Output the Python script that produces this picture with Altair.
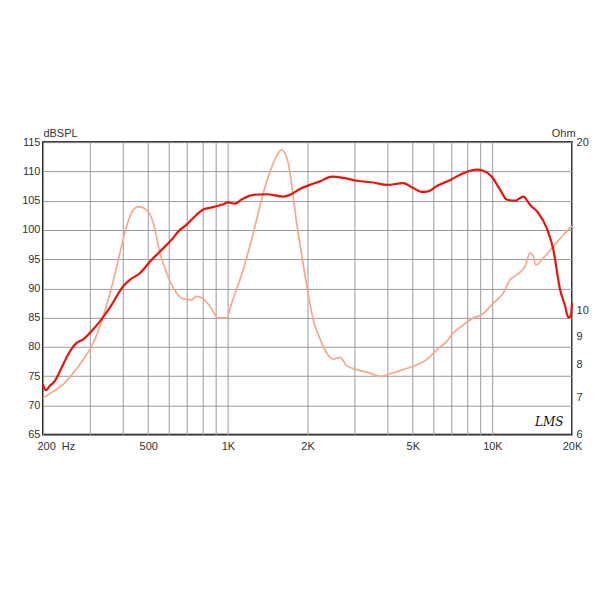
import altair as alt
import pandas as pd

# SPL curve (dB) vs frequency (Hz)
spl_freq = [200, 205, 212, 222, 235, 249, 267, 284, 301, 329, 358, 403, 427, 465, 508, 554, 604,
            659, 699, 762, 807, 881, 961, 1000, 1064, 1127, 1248, 1402, 1621, 1717, 1873, 2045,
            2230, 2468, 2732, 3069, 3548, 4005, 4605, 5000, 5403, 5725, 6160, 6915, 7762, 8725,
            9240, 9940, 10685, 11325, 12170, 13090, 13870, 14910, 16050, 17000, 18020, 18830,
            19370, 19770, 20000]
spl_db = [73.6, 72.6, 73.3, 74.2, 76.4, 78.7, 80.6, 81.3, 82.4, 84.4, 86.7, 90.4, 91.5, 92.6,
          94.6, 96.3, 98.0, 100.0, 100.9, 102.6, 103.5, 103.9, 104.4, 104.7, 104.5, 105.2, 106.0,
          106.1, 105.7, 106.0, 107.0, 107.7, 108.3, 109.1, 108.9, 108.4, 108.1, 107.7, 108.0,
          107.2, 106.5, 106.6, 107.5, 108.5, 109.7, 110.3, 110.1, 109.1, 106.9, 105.2, 105.0,
          105.7, 104.3, 102.9, 100.3, 96.6, 89.8, 87.0, 85.0, 85.3, 87.5]

# Impedance curve (Ohm) vs frequency (Hz)
imp_freq = [200, 219, 238, 260, 284, 310, 338, 364, 391, 414, 439, 459, 493, 523, 554, 587, 640,
            678, 730, 762, 807, 856, 920, 990, 1034, 1143, 1248, 1361, 1485, 1597, 1692, 1821,
            1986, 2103, 2230, 2364, 2504, 2655, 2812, 3069, 3446, 3759, 4101, 4605, 5174, 5643,
            6160, 6720, 7117, 7762, 8473, 9113, 10085, 11000, 11660, 12360, 13280, 13870, 14200,
            14620, 15580, 17000, 18550, 20000]
imp_ohm = [6.98, 7.17, 7.37, 7.73, 8.17, 8.75, 9.76, 11.04, 12.67, 14.13, 15.14, 15.34, 15.14,
           14.33, 12.67, 11.67, 10.75, 10.49, 10.45, 10.6, 10.49, 10.17, 9.7, 9.7, 10.31, 11.83,
           13.76, 16.21, 18.34, 19.38, 18.34, 14.33, 11.1, 9.63, 8.9, 8.4, 8.19, 8.25, 7.97,
           7.84, 7.73, 7.63, 7.71, 7.84, 8.0, 8.17, 8.51, 8.81, 9.12, 9.43, 9.7, 9.83, 10.31,
           10.75, 11.35, 11.59, 11.99, 12.67, 12.58, 12.07, 12.41, 13.02, 13.66, 14.17]

x_grid = [200, 300, 400, 500, 600, 700, 800, 900, 1000, 2000, 3000, 4000, 5000, 6000, 7000,
          8000, 9000, 10000, 20000]
x_labels = {200: "200\u00a0\u00a0Hz", 500: "500", 1000: "1K", 2000: "2K", 5000: "5K",
            10000: "10K", 20000: "20K"}
db_ticks = [65, 70, 75, 80, 85, 90, 95, 100, 105, 110, 115]
ohm_ticks = [6, 7, 8, 9, 10, 20]

spl_df = pd.DataFrame({"f": spl_freq, "v": spl_db})
imp_df = pd.DataFrame({"f": imp_freq, "v": imp_ohm})
lms_df = pd.DataFrame({"f": [16400], "v": [67.2], "t": ["LMS"]})

FONT = "Liberation Sans"
TXT = "#333333"

label_expr = " : ".join(
    [f"datum.value == {k} ? '{v}'" for k, v in x_labels.items()]) + " : ''"

x_enc = alt.X(
    "f:Q",
    scale=alt.Scale(type="log", domain=[200, 20000], nice=False),
    axis=alt.Axis(
        values=x_grid, labelExpr=label_expr, title=None, grid=True, gridColor="#9a9a9a",
        gridWidth=1, ticks=False, domain=False, labelPadding=6, labelFont=FONT,
        labelFontSize=11, labelColor=TXT, labelFlush=False, labelOverlap=False,
        labelAlign={"condition": {"test": "datum.value <= 200", "value": "left"},
                    "value": "center"},
        labelOffset={"condition": {"test": "datum.value <= 200", "value": -6},
                     "value": 0},
    ),
)

imp = alt.Chart(imp_df).mark_line(color="#f6a888", strokeWidth=1.7, interpolate="monotone").encode(
    x=x_enc,
    y=alt.Y(
        "v:Q",
        scale=alt.Scale(type="log", domain=[6, 20], nice=False),
        axis=alt.Axis(
            orient="right", values=ohm_ticks, grid=False, ticks=False, domain=False,
            labelPadding=4, labelFont=FONT, labelFontSize=11, labelColor=TXT,
            labelFlush=False, labelOverlap=False, labelBaseline="middle",
            title="Ohm", titleAngle=0, titleX=3, titleY=-6, titleAlign="right",
            titleBaseline="alphabetic", titleFont=FONT, titleFontSize=11,
            titleFontWeight="normal", titleColor=TXT,
        ),
    ),
)

spl_y = alt.Y(
    "v:Q",
    scale=alt.Scale(domain=[65, 115], nice=False),
    axis=alt.Axis(
        orient="left", values=db_ticks, tickCount=11, grid=True, gridColor="#9a9a9a",
        gridWidth=1, ticks=False, domain=False, labelPadding=3, labelFont=FONT,
        labelFontSize=11, labelColor=TXT, labelFlush=False, labelOverlap=False,
        labelBaseline="middle",
        title="dBSPL", titleAngle=0, titleX=0, titleY=-6, titleAlign="left",
        titleBaseline="alphabetic", titleFont=FONT, titleFontSize=11,
        titleFontWeight="normal", titleColor=TXT,
    ),
)

spl = alt.Chart(spl_df).mark_line(color="#e8140c", strokeWidth=2.2, interpolate="monotone").encode(
    x=x_enc, y=spl_y
)

lms = alt.Chart(lms_df).mark_text(
    font="DejaVu Serif", fontStyle="italic", fontSize=12, color="#111111", align="center",
    baseline="middle"
).encode(x=x_enc, y=spl_y, text="t:N")

left = alt.layer(spl, lms)

chart = alt.layer(imp, left).resolve_scale(y="independent").properties(
    width=530, height=293,
    autosize=alt.AutoSizeParams(type="none"),
    padding={"left": 35, "top": 134, "right": 20, "bottom": 30},
    background="white",
).configure_view(stroke="#000000", strokeWidth=1.6)

chart.save("out.html", embed_options={"renderer": "svg", "actions": False})
